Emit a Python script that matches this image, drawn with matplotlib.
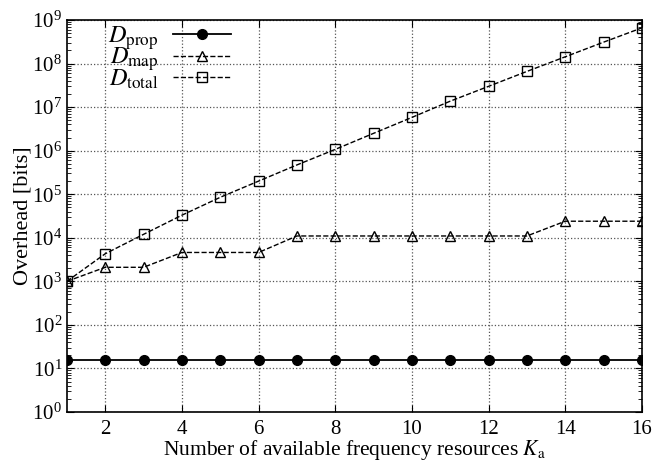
import matplotlib
matplotlib.use('Agg')
import matplotlib.pyplot as plt
import numpy as np
from matplotlib.ticker import LogLocator, NullFormatter, FixedLocator

plt.rcParams['font.family'] = 'serif'
plt.rcParams['font.serif'] = ['Liberation Serif', 'DejaVu Serif']
plt.rcParams['mathtext.fontset'] = 'stix'

# data
k_a = [1, 2, 3, 4, 5, 6, 7, 8, 9, 10, 11, 12, 13, 14, 15, 16]
d_prop = [16] * 16
d_map = [1.0e3, 2.1e3, 2.1e3, 4.6e3, 4.6e3, 4.6e3, 1.1e4, 1.1e4, 1.1e4,
         1.1e4, 1.1e4, 1.1e4, 1.1e4, 2.4e4, 2.4e4, 2.4e4]
d_total = [1.0e3, 4.3e3, 1.2e4, 3.3e4, 8.5e4, 2.0e5, 4.7e5, 1.07e6, 2.5e6,
           5.8e6, 1.37e7, 3.0e7, 6.6e7, 1.43e8, 3.1e8, 6.6e8]
x_ticks = [2, 4, 6, 8, 10, 12, 14, 16]

fig = plt.figure(figsize=(6.56, 4.61), dpi=100)
ax = fig.add_axes([0.102, 0.1063, 0.8765, 0.8503])

ax.plot(k_a, d_prop, '-', color='black', lw=1.3, marker='o', ms=7,
        label=r'$D_{\rm prop}$')
ax.plot(k_a, d_map, '--', color='black', lw=1.0, marker='^', ms=7,
        mfc='none', mew=1.0, label=r'$D_{\rm map}$')
ax.plot(k_a, d_total, '--', color='black', lw=1.0, marker='s', ms=7.5,
        mfc='none', mew=1.0, label=r'$D_{\rm total}$')

ax.set_yscale('log')
ax.set_xlim(1, 16)
ax.set_ylim(1, 1e9)
ax.xaxis.set_major_locator(FixedLocator(x_ticks))
ax.yaxis.set_major_locator(LogLocator(base=10, numticks=12))
ax.yaxis.set_minor_locator(LogLocator(base=10, subs=np.arange(2, 10), numticks=12))
ax.yaxis.set_minor_formatter(NullFormatter())

ax.tick_params(which='both', direction='in', top=True, right=True, labelsize=15)
ax.tick_params(which='major', length=5)
ax.tick_params(which='minor', length=3)
ax.tick_params(axis='x', pad=6)
ax.grid(True, which='major', linestyle=':', color='#555555', lw=0.9)
for s in ax.spines.values():
    s.set_linewidth(1.2)

ax.set_xlabel(r'Number of available frequency resources $K_{\rm a}$', fontsize=15.5, labelpad=-1)
ax.set_ylabel('Overhead [bits]', fontsize=16, labelpad=0)

ax.legend(loc='upper left', frameon=False, markerfirst=False, fontsize=17.5,
          handlelength=2.4, labelspacing=-0.25, borderaxespad=0.0, borderpad=0.0,
          bbox_to_anchor=(0.071, 0.99), handletextpad=0.6)

fig.savefig('out.png', dpi=100)
